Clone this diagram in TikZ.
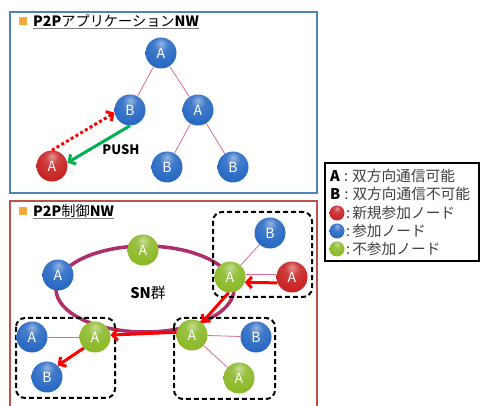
\documentclass[tikz,border=0pt]{standalone}
\usepackage{fontspec}
\setmainfont{Noto Sans CJK JP}
\usetikzlibrary{arrows.meta}
\definecolor{bluenode}{RGB}{40,105,195}
\definecolor{rednode}{RGB}{200,35,35}
\definecolor{greennode}{RGB}{140,185,40}
\definecolor{frameblue}{RGB}{79,129,189}
\definecolor{framered}{RGB}{192,80,77}
\definecolor{ringc}{RGB}{175,45,105}
\definecolor{linkc}{RGB}{215,110,145}
\definecolor{titlesq}{RGB}{247,170,60}
\definecolor{arrred}{RGB}{255,0,0}
\definecolor{arrgreen}{RGB}{0,176,80}
\definecolor{textgray}{RGB}{64,64,64}
\pgfdeclareradialshading{bluesh}{\pgfpoint{0bp}{16bp}}{color(0bp)=(bluenode!50!white); color(12bp)=(bluenode!88!white); color(30bp)=(bluenode); color(50bp)=(bluenode!85!black); color(66bp)=(bluenode!70!black)}
\pgfdeclareradialshading{redsh}{\pgfpoint{0bp}{16bp}}{color(0bp)=(rednode!50!white); color(12bp)=(rednode!88!white); color(30bp)=(rednode); color(50bp)=(rednode!85!black); color(66bp)=(rednode!70!black)}
\pgfdeclareradialshading{greensh}{\pgfpoint{0bp}{16bp}}{color(0bp)=(greennode!50!white); color(12bp)=(greennode!88!white); color(30bp)=(greennode); color(50bp)=(greennode!87!black); color(66bp)=(greennode!72!black)}
\begin{document}
\begin{tikzpicture}[x=1pt,y=-1pt,
  ball/.style={circle, minimum size=31pt, inner sep=0pt, shading=#1, text=white, font=\fontsize{14}{14}\selectfont},
  lball/.style={circle, minimum size=15pt, inner sep=0pt, shading=#1},
  link/.style={draw=linkc, line width=0.8pt},
  redarr/.style={draw=arrred, line width=3pt, -{Straight Barb[length=5pt,width=11pt]}},
  greenarr/.style={draw=arrgreen, line width=3pt, -{Straight Barb[length=5pt,width=11pt]}},
  dotarr/.style={draw=arrred, line width=3pt, dash pattern=on 3pt off 2.5pt, -{Straight Barb[length=5pt,width=11pt]}},
  groupbox/.style={draw=black, line width=2pt, dash pattern=on 5pt off 3pt, rounded corners=9pt},
  titletext/.style={anchor=west, inner sep=0pt, font=\fontsize{14.2}{16}\selectfont},
  legtext/.style={anchor=west, inner sep=0pt, font=\fontsize{14.7}{16}\selectfont, text=textgray},
]
\useasboundingbox (0,0) rectangle (480,406);
\clip (0,0) rectangle (480,406);
\fill[white] (0,0) rectangle (480,406);

% frames
\draw[frameblue, line width=2pt] (10,12) rectangle (317,193);
\draw[framered, line width=2pt] (10,201) rectangle (317,420);

% titles
\fill[titlesq] (19,17.5) rectangle (27,25.5);
\node[titletext] (t1) at (33,21) {\textbf{P2P}アプリケーション\textbf{NW}};
\draw[gray, line width=0.8pt] ([yshift=-1pt]t1.south west) -- ([yshift=-1pt]t1.south east);
\fill[titlesq] (19,207.5) rectangle (27,215.5);
\node[titletext] (t2) at (33,211) {\textbf{P2P}制御\textbf{NW}};
\draw[gray, line width=0.8pt] ([yshift=-1pt]t2.south west) -- ([yshift=-1pt]t2.south east);

% ===== top network =====
\node[ball=bluesh] (a1) at (161,53) {A};
\node[ball=bluesh] (b1) at (130,110) {B};
\node[ball=bluesh] (a2) at (198,110) {A};
\node[ball=redsh]  (r1) at (52,166) {A};
\node[ball=bluesh] (b2) at (167,167) {B};
\node[ball=bluesh] (b3) at (233,167) {B};
\draw[link] (a1) -- (b1);
\draw[link] (a1) -- (a2);
\draw[link] (a2) -- (b2);
\draw[link] (a2) -- (b3);
\draw[dotarr] (r1.north) -- (b1.190);
\draw[greenarr] (b1.south) -- (r1.12);
\node[font=\fontsize{13}{13}\selectfont\bfseries] (push) at (121,150) {PUSH};

% ===== bottom network =====
\draw[ringc, line width=3.5pt] (145,289) ellipse [x radius=89pt, y radius=43pt];
\node (sn) at (148,293) {\fontsize{14.7}{16}\selectfont\textbf{SN}群};

\draw[groupbox] (213,212) rectangle (312,297);
\draw[groupbox] (16,318) rectangle (115,398);
\draw[groupbox] (174,318) rectangle (275,399);

\node[ball=greensh] (g1)  at (143,250) {A};
\node[ball=bluesh]  (ba)  at (58,275) {A};
\node[ball=greensh] (gtr) at (230,277) {A};
\node[ball=bluesh]  (bb1) at (270,233) {B};
\node[ball=redsh]   (r2)  at (292,277) {A};
\node[ball=bluesh]  (bla) at (32,337) {A};
\node[ball=greensh] (gbl) at (95,337) {A};
\node[ball=bluesh]  (blb) at (47,377) {B};
\node[ball=greensh] (gbr) at (192,335) {A};
\node[ball=bluesh]  (brb) at (256,337) {B};
\node[ball=greensh] (brg) at (239,378) {A};

\draw[link] (gtr) -- (bb1);
\draw[link] (gtr.8) -- (r2.172);
\draw[link] (bla) -- (gbl);
\draw[link] (gbr) -- (brb);
\draw[link] (gbr) -- (brg);

\draw[redarr] (r2.202) -- (gtr.340);
\draw[redarr] (gtr.-95) -- (gbr.51);
\draw[redarr] (gbr.170) -- (gbl.7);
\draw[redarr] (gbl.225) -- (blb.47);

% ===== legend =====
\draw[black, line width=2pt] (325,163) rectangle (479,261);
\node[legtext] (l1) at (330,176) {\textcolor{black}{\textbf{A}}\hspace{4pt}:\hspace{4pt}双方向通信可能};
\node[legtext] (l2) at (330,194) {\textcolor{black}{\textbf{B}}\hspace{4pt}:\hspace{4pt}双方向通信不可能};
\node[lball=redsh]   (lr) at (337,213) {};
\node[lball=bluesh]  (lb) at (337,231) {};
\node[lball=greensh] (lg) at (337,249) {};
\node[legtext] (l3) at (346,213) {:\hspace{2pt}新規参加ノード};
\node[legtext] (l4) at (346,231) {:\hspace{2pt}参加ノード};
\node[legtext] (l5) at (346,249) {:\hspace{2pt}不参加ノード};
\end{tikzpicture}
\end{document}
